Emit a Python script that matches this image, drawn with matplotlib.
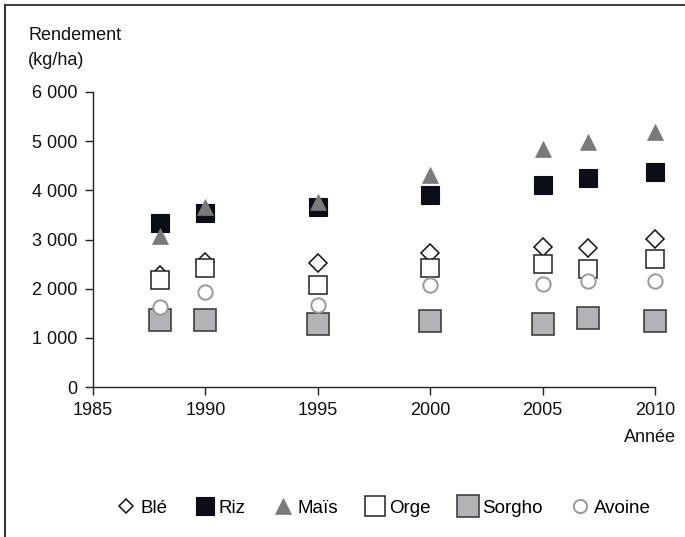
import matplotlib
matplotlib.use("Agg")
import matplotlib.pyplot as plt
from matplotlib.lines import Line2D

plt.rcParams['font.family'] = ['Liberation Sans', 'DejaVu Sans']

years = [1988, 1990, 1995, 2000, 2005, 2007, 2010]
ble = [2270, 2540, 2520, 2730, 2850, 2830, 3010]
riz = [3335, 3540, 3670, 3905, 4110, 4250, 4380]
mais = [3070, 3660, 3760, 4310, 4840, 4980, 5190]
orge = [2180, 2430, 2070, 2430, 2500, 2410, 2600]
sorgho = [1360, 1360, 1280, 1340, 1290, 1400, 1340]
avoine = [1630, 1930, 1670, 2070, 2095, 2155, 2155]

series_names = ['Blé', 'Riz', 'Maïs', 'Orge', 'Sorgho', 'Avoine']
x_ticks = [1985, 1990, 1995, 2000, 2005, 2010]
y_ticks = [0, 1000, 2000, 3000, 4000, 5000, 6000]
y_ticklabels = ['0', '1 000', '2 000', '3 000', '4 000', '5 000', '6 000']

styles = [
    dict(marker='D', ms=8.8, mfc='white', mec='#111111', mew=1.1),
    dict(marker='s', ms=13.2, mfc='#0b0d17', mec='#0b0d17', mew=0.8),
    dict(marker='^', ms=11.5, mfc='#7a7a7a', mec='#7a7a7a', mew=0.5),
    dict(marker='s', ms=12.5, mfc='white', mec='#222222', mew=1.1),
    dict(marker='s', ms=15.2, mfc='#b1b3b6', mec='#333333', mew=1.1),
    dict(marker='o', ms=10.3, mfc='white', mec='#9a9a9a', mew=1.4),
]
data = [ble, riz, mais, orge, sorgho, avoine]

fig = plt.figure(figsize=(6.85, 5.37), dpi=100)
ax = fig.add_axes([93/685, 1 - 387/537, (655 - 93)/685, (387 - 92)/537])

for name, vals, st in zip(series_names, data, styles):
    ax.plot(years, vals, linestyle='none', clip_on=False, label=name, **st)

ax.set_xlim(1985, 2010)
ax.set_ylim(0, 6000)
ax.set_xticks(x_ticks)
ax.set_yticks(y_ticks)
ax.set_yticklabels(y_ticklabels)
for s in ['top', 'right']:
    ax.spines[s].set_visible(False)
for s in ['left', 'bottom']:
    ax.spines[s].set_color('#222222')
    ax.spines[s].set_linewidth(1.0)
ax.tick_params(axis='both', direction='out', length=6, width=1.0, color='#222222',
               labelsize=13, labelcolor='#111111', pad=5)

fig.text(28/685, 1 - 48/537, 'Rendement\n(kg/ha)', fontsize=13, ha='left', va='center',
         linespacing=1.55, color='#111111')
fig.text(676/685, 1 - 437/537, 'Année', fontsize=13, ha='right', va='center', color='#111111')

handles = []
leg_sizes = [7.2, 13.5, 11, 14, 16, 9.5]
for name, st, ls in zip(series_names, styles, leg_sizes):
    st2 = dict(st)
    st2['ms'] = ls
    handles.append(Line2D([], [], linestyle='none', label=name, **st2))
fig.legend(handles=handles, loc='center', bbox_to_anchor=(384/685, 1 - 508/537), ncol=6,
           frameon=False, fontsize=13.5, handlelength=1.0, handletextpad=0.25,
           columnspacing=1.5, borderpad=0)

# frame lines (top and left)
fig.add_artist(Line2D([5/685, 1], [1 - 4.5/537, 1 - 4.5/537], transform=fig.transFigure,
                      color='#444444', lw=1.5))
fig.add_artist(Line2D([5/685, 5/685], [0, 1 - 4.5/537], transform=fig.transFigure,
                      color='#333333', lw=1.5))

fig.savefig('out.png', dpi=100)
